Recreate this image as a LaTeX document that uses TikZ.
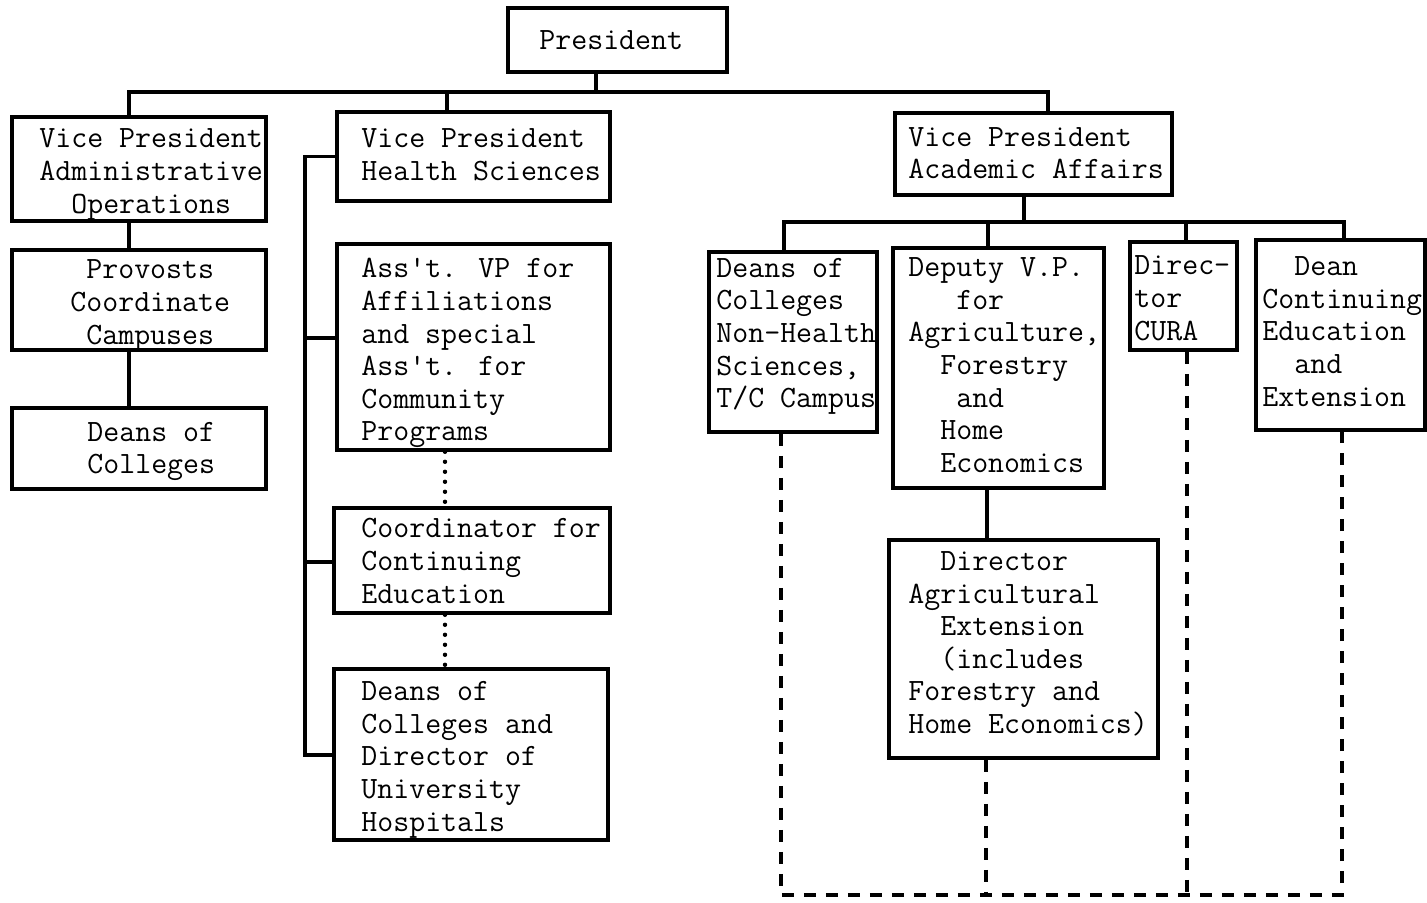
\documentclass[tikz,border=0pt]{standalone}
\usepackage{fontspec}
\usetikzlibrary{fit}
\tikzset{
  box/.style={draw, line width=1.8pt, inner sep=0pt},
  txt/.style={anchor=west, align=left, inner sep=0pt, yshift=-1.2pt,
    font=\ttfamily\addfontfeatures{FakeBold=1.4}\fontsize{15.5pt}{16.3pt}\selectfont},
  link/.style={line width=1.6pt},
  dotlink/.style={line width=2.2pt, line cap=round, dash pattern=on 0pt off 5pt},
  dashlink/.style={line width=1.6pt, dash pattern=on 6pt off 5pt},
}
\begin{document}
\begin{tikzpicture}[x=0.5pt, y=-0.5pt]
\useasboundingbox (0,0) rectangle (1427,903);

% ---- boxes ----
\node[box, fit={(508,8)(727,72)}]      (pres) {};
\node[box, fit={(12,117)(266,221)}]    (vpa) {};
\node[box, fit={(337,112)(610,201)}]   (vph) {};
\node[box, fit={(895,113)(1172,195)}]  (vpac) {};
\node[box, fit={(12,250)(266,350)}]    (prov) {};
\node[box, fit={(12,408)(266,489)}]    (deanl) {};
\node[box, fit={(337,244)(610,450)}]   (asst) {};
\node[box, fit={(334,508)(610,613)}]   (coord) {};
\node[box, fit={(334,669)(608,840)}]   (deanhs) {};
\node[box, fit={(709,252)(877,432)}]   (deannh) {};
\node[box, fit={(893,248)(1104,488)}]  (deputy) {};
\node[box, fit={(1130,242)(1237,350)}] (cura) {};
\node[box, fit={(1256,240)(1425,430)}] (deancont) {};
\node[box, fit={(889,540)(1158,758)}]  (dirag) {};

% ---- texts ----
\node[txt] (t-pres) at (539,41) {\strut President};
\node[txt] (t-vpa) at (39,171.5) {\strut Vice President\\\strut Administrative\\\strut ~~Operations};
\node[txt] (t-vph) at (361,155) {\strut Vice President\\\strut Health Sciences};
\node[txt] (t-vpac) at (908,153.5) {\strut Vice President\\\strut Academic Affairs};
\node[txt] (t-prov) at (70,302.5) {\strut ~Provosts\\\strut Coordinate\\\strut ~Campuses};
\node[txt] (t-deanl) at (87,448.5) {\strut Deans of\\\strut Colleges};
\node[txt] (t-asst) at (361,350.5) {\strut Ass't. VP for\\\strut Affiliations\\\strut and special\\\strut Ass't. for\\\strut Community\\\strut Programs};
\node[txt] (t-coord) at (361,561.5) {\strut Coordinator for\\\strut Continuing\\\strut Education};
\node[txt] (t-deanhs) at (361,757) {\strut Deans of\\\strut Colleges and\\\strut Director of\\\strut University\\\strut Hospitals};
\node[txt] (t-deannh) at (716,333.5) {\strut Deans of\\\strut Colleges\\\strut Non-Health\\\strut Sciences,\\\strut T/C Campus};
\node[txt] (t-deputy) at (908,365.5) {\strut Deputy V.P.\\\strut ~~~for\\\strut Agriculture,\\\strut ~~Forestry\\\strut ~~~and\\\strut ~~Home\\\strut ~~Economics};
\node[txt] (t-cura) at (1134,298.5) {\strut Direc-\\\strut tor\\\strut CURA};
\node[txt] (t-deancont) at (1262,332) {\strut ~~Dean\\\strut Continuing\\\strut Education\\\strut ~~and\\\strut Extension};
\node[txt] (t-dirag) at (908,643) {\strut ~~Director\\\strut Agricultural\\\strut ~~Extension\\\strut ~~(includes\\\strut Forestry and\\\strut Home Economics)};

% ---- junction points ----
\coordinate (jp) at (596,92);
\coordinate (ja) at (129,92);
\coordinate (jh) at (447,92);
\coordinate (jc) at (1048,92);
\coordinate (s1) at (305,338);
\coordinate (s2) at (305,562);
\coordinate (s3) at (305,755);
\coordinate (dd) at (445,0);
\coordinate (kv) at (1024,222);
\coordinate (k1) at (784,222);
\coordinate (k2) at (988,222);
\coordinate (k3) at (1186,222);
\coordinate (k4) at (1344,222);
\coordinate (m)  at (987,0);
\coordinate (b1) at (781,895);
\coordinate (b2) at (986,895);
\coordinate (b3) at (1187,895);
\coordinate (b4) at (1342,895);

% ---- top level ----
\draw[link] (pres.south -| jp) -- (jp);
\draw[link] (ja |- vpa.north) -- (ja) -- (jc) -- (jc |- vpac.north);
\draw[link] (jh) -- (jh |- vph.north);

% ---- administrative operations ----
\draw[link] (vpa.south -| ja) -- (prov.north -| ja);
\draw[line width=2.4pt] (prov.south -| ja) -- (deanl.north -| ja);

% ---- health sciences ----
\draw[link] (vph.west) -| (s3) -- (s3 -| deanhs.west);
\draw[link] (s1) -- (s1 -| asst.west);
\draw[link] (s2) -- (s2 -| coord.west);
\draw[dotlink] (asst.south -| dd) -- (coord.north -| dd);
\draw[dotlink] (coord.south -| dd) -- (deanhs.north -| dd);

% ---- academic affairs ----
\draw[link] (vpac.south -| kv) -- (kv);
\draw[link] (k1 |- deannh.north) -- (k1) -- (k4) -- (k4 |- deancont.north);
\draw[link] (k2) -- (k2 |- deputy.north);
\draw[link] (k3) -- (k3 |- cura.north);
\draw[link] (deputy.south -| m) -- (dirag.north -| m);

% ---- dashed extension ties ----
\draw[dashlink] (deannh.south -| b1) -- (b1) -- (b4) -- (deancont.south -| b4);
\draw[dashlink] (dirag.south -| b2) -- (b2);
\draw[dashlink] (cura.south -| b3) -- (b3);
\end{tikzpicture}
\end{document}
